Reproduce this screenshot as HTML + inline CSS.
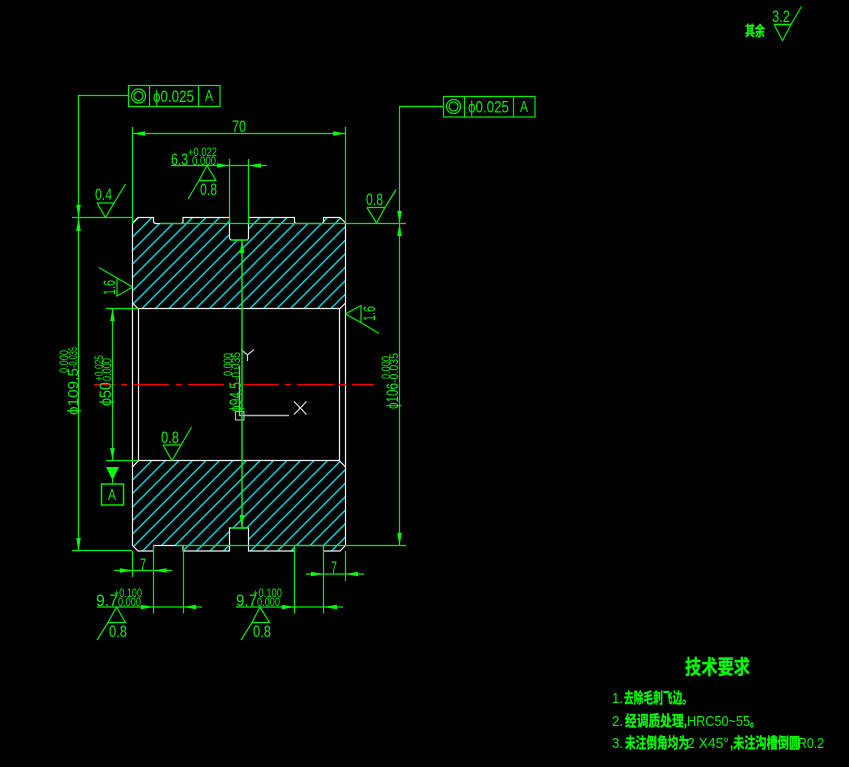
<!DOCTYPE html>
<html><head><meta charset="utf-8"><style>
html,body{margin:0;padding:0;background:#000;width:849px;height:767px;overflow:hidden}
svg{display:block}
text{font-family:"Liberation Sans","Noto Sans CJK SC",sans-serif;fill:#00f000;stroke:none}
.b{font-size:16.5px}.s{font-size:11.5px}
.c{font-family:"Liberation Sans","WenQuanYi Zen Hei","Noto Sans CJK SC",sans-serif;fill:#00ff00;font-weight:bold;stroke:#00ff00;stroke-width:.3}
.g{stroke:#00ee00;stroke-width:1.2;fill:none}
.a{fill:#00ff00;stroke:none}
</style></head><body>
<svg width="849" height="767" viewBox="0 0 849 767" xmlns="http://www.w3.org/2000/svg">
<rect width="849" height="767" fill="#000"/>
<defs>
<pattern id="h" width="13.5" height="13.5" patternUnits="userSpaceOnUse" patternTransform="translate(5 0)">
<path d="M-2 15.5L15.5 -2M-2 2L2 -2M11.5 15.5L15.5 11.5" stroke="#00d4dc" stroke-width="1.5" fill="none"/>
</pattern>
</defs>

<!-- body -->
<g fill="url(#h)" stroke="#f4f4f4" stroke-width="1.2">
<path d="M132.5 223L138 217.5H153.5V222L155 223.5H181.5L183 222V217.5H229.5V238.5L231 240H247L248.5 238.5V217.5H294.5V222L296 223.5H322L323.5 222V217.5H340L345.5 223V303L340 308.5H138L132.5 303Z"/>
<path d="M138.5 460.5H339L345.5 467V545.5L340 551H323.5V545.5H294.5V551H248.5V528H229.5V551H183V545.5H153.5V551H138L132.5 545.5V467Z"/>
</g>
<path d="M132.5 303V467M345.5 303V467M138.5 308V461M339.5 308V461" stroke="#f4f4f4" stroke-width="1.2" fill="none"/>

<!-- center line -->
<path d="M94 384.5H115M121 384.5H127M133 384.5H169M176 384.5H182M188 384.5H224M230 384.5H236M243 384.5H279M285 384.5H291M297 384.5H334M339 384.5H346M352 384.5H374" stroke="#ff0000" stroke-width="1.2" fill="none"/>

<!-- UCS -->
<g stroke="#b4b4b4" fill="none" stroke-width="1.2">
<rect x="235.5" y="411.5" width="8.5" height="8.5"/>
<path d="M239.5 366V415.5H289" stroke-width="1.4"/>
<path d="M294 401.5L306.5 414.5M306.5 401.5L294 414.5" stroke="#e8e8e8"/>
<path d="M241 349.5L247.5 355L254 349.5M247.5 355V361" stroke="#d8d8d8"/>
</g>

<!-- green lines -->
<g class="g">
<path d="M128 95.5H78.5V551"/>
<rect x="128.5" y="85.5" width="91.5" height="21"/>
<path d="M149.5 85.5V106.5M198.5 85.5V106.5"/>
<circle cx="138.5" cy="96" r="7"/><circle cx="138.5" cy="96" r="4.5"/>
<path d="M443 106.5H399.5V545.5"/>
<rect x="443.5" y="96.5" width="91.5" height="20.5"/>
<path d="M464.5 96.5V117M513.5 96.5V117"/>
<circle cx="453.5" cy="106.5" r="7"/><circle cx="453.5" cy="106.5" r="4.5"/>
<path d="M132.5 127V223M345.5 127V223M132.5 133.5H345.5"/>
<path d="M171 165.5H267M229.5 159V223M248.5 159V223"/>
<path d="M207 165.5L199 180.5H216L207 165.5M199 180.5L188 199"/>
<path d="M72 217.5H133"/>
<path d="M97 203H114L105.5 217.5L97 203M114 203L125.5 184"/>
<path d="M160 223.5H406"/>
<path d="M367 207.5H385L376.5 223L367 207.5M385 207.5L396 189.5"/>
<path d="M132.5 287L117 278V296L132.5 287M117 278L99 267.5"/>
<path d="M345.5 314L361 305.5V322.5L345.5 314M361 322.5L379 333.5"/>
<path d="M106 308.5H138M106 460.5H138M112.5 308.5V460.5"/>
<path d="M163 445H181L172 460.5L163 445M181 445L191.5 427"/>
<path d="M112.5 478V484"/>
<rect x="101.5" y="484" width="22" height="21" stroke-width="1.5"/>
<path d="M242 240V528M231 240H248M231 528H248" stroke-width="1.5"/>
<path d="M72 550.5H132M176 545.5H406"/>
<path d="M114 570.5H172M132.5 551V577M153.5 545V613.5M183.5 545V613.5"/>
<path d="M97 607H202"/>
<path d="M116.5 607L108 622.5H125.5L116.5 607M108 622.5L97 640"/>
<path d="M306 574H364M345.5 551V581M294.5 545V613.5M323.5 545V613.5"/>
<path d="M236 607H343"/>
<path d="M260 607L252 622.5H269.5L260 607M252 622.5L241 640"/>
<path d="M774 24.5H791L782.5 40.5L774 24.5M791 24.5L801.5 6.5"/>
</g>
<path d="M774 24.5H791" stroke="#00ee00" stroke-width="1.6"/>

<!-- arrows -->
<g class="a">
<path d="M132.5 133.5L145 131.2V135.8Z"/><path d="M345.5 133.5L333 131.2V135.8Z"/>
<path d="M229.5 165.5L217 163.2V167.8Z"/><path d="M248.5 165.5L261 163.2V167.8Z"/>
<path d="M78.5 217.5L76.2 205H80.8Z"/><path d="M78.5 217.5L76.2 231H80.8Z"/>
<path d="M78.5 551L76.2 538H80.8Z"/>
<path d="M399.5 223.5L397.2 211H401.8Z"/><path d="M399.5 223.5L397.2 236H401.8Z"/>
<path d="M399.5 545.5L397.2 533H401.8Z"/>
<path d="M112.5 308.5L110.2 321H114.8Z"/><path d="M112.5 460.5L110.2 448H114.8Z"/>
<path d="M242 240L239.7 253H244.3Z"/><path d="M242 528L239.7 515H244.3Z"/>
<path d="M132.5 570.5L120 568.2V572.8Z"/><path d="M153.5 570.5L166.5 568.2V572.8Z"/>
<path d="M153.5 607L141 604.7V609.3Z"/><path d="M183.5 607L196 604.7V609.3Z"/>
<path d="M323.5 574L311 571.7V576.3Z"/><path d="M345.5 574L358 571.7V576.3Z"/>
<path d="M294.5 607L282 604.7V609.3Z"/><path d="M323.5 607L337 604.7V609.3Z"/>
<path d="M106 467H119L112.5 480Z"/>
</g>

<!-- labels -->
<text class="b" x="153" y="102" textLength="41" lengthAdjust="spacingAndGlyphs">ϕ0.025</text>
<text x="205" y="101" textLength="8" lengthAdjust="spacingAndGlyphs" style="font-size:16px">A</text>
<text class="b" x="468" y="112.5" textLength="41" lengthAdjust="spacingAndGlyphs">ϕ0.025</text>
<text x="520" y="112" textLength="8" lengthAdjust="spacingAndGlyphs" style="font-size:16px">A</text>
<text class="b" x="232" y="132" textLength="14" lengthAdjust="spacingAndGlyphs">70</text>
<text class="b" x="171" y="165" textLength="17" lengthAdjust="spacingAndGlyphs">6.3</text>
<text class="s" x="188" y="156" textLength="29" lengthAdjust="spacingAndGlyphs">+0.022</text>
<text class="s" x="192" y="165" textLength="24" lengthAdjust="spacingAndGlyphs">0.000</text>
<text class="b" x="200" y="195" textLength="17" lengthAdjust="spacingAndGlyphs">0.8</text>
<text class="b" x="95" y="200" textLength="17" lengthAdjust="spacingAndGlyphs">0.4</text>
<text class="b" x="366" y="205" textLength="17" lengthAdjust="spacingAndGlyphs">0.8</text>
<text class="b" x="161" y="443" textLength="18" lengthAdjust="spacingAndGlyphs">0.8</text>
<text x="108" y="500" textLength="8" lengthAdjust="spacingAndGlyphs" style="font-size:16px">A</text>
<text class="b" x="140" y="570" textLength="6" lengthAdjust="spacingAndGlyphs">7</text>
<text class="b" x="331" y="573" textLength="6" lengthAdjust="spacingAndGlyphs">7</text>
<text class="b" x="96" y="606" textLength="22" lengthAdjust="spacingAndGlyphs">9.7</text>
<text class="s" x="114" y="597" textLength="28" lengthAdjust="spacingAndGlyphs">+0.100</text>
<text class="s" x="118" y="606" textLength="23" lengthAdjust="spacingAndGlyphs">0.000</text>
<text class="b" x="109" y="637" textLength="18" lengthAdjust="spacingAndGlyphs">0.8</text>
<text class="b" x="236" y="606" textLength="21" lengthAdjust="spacingAndGlyphs">9.7</text>
<text class="s" x="253" y="597" textLength="29" lengthAdjust="spacingAndGlyphs">+0.100</text>
<text class="s" x="257" y="606" textLength="23" lengthAdjust="spacingAndGlyphs">0.000</text>
<text class="b" x="253" y="637" textLength="18" lengthAdjust="spacingAndGlyphs">0.8</text>
<text class="b" x="772" y="22" textLength="18" lengthAdjust="spacingAndGlyphs">3.2</text>

<!-- rotated labels -->
<text class="b" transform="translate(115 295) rotate(-90)" textLength="15" lengthAdjust="spacingAndGlyphs">1.6</text>
<text class="b" transform="translate(375 321) rotate(-90)" textLength="15" lengthAdjust="spacingAndGlyphs">1.6</text>
<text class="b" transform="translate(111 406) rotate(-90)" textLength="24" lengthAdjust="spacingAndGlyphs">ϕ50</text>
<text class="s" transform="translate(103 381) rotate(-90)" textLength="26" lengthAdjust="spacingAndGlyphs">+0.025</text>
<text class="s" transform="translate(111 381) rotate(-90)" textLength="23" lengthAdjust="spacingAndGlyphs">0.000</text>
<text class="b" transform="translate(78 415) rotate(-90)" textLength="47" lengthAdjust="spacingAndGlyphs" style="font-size:15px">ϕ109.5</text>
<text class="s" transform="translate(68 373) rotate(-90)" textLength="23" lengthAdjust="spacingAndGlyphs">0.000</text>
<text class="s" transform="translate(77 368) rotate(-90)" textLength="21" lengthAdjust="spacingAndGlyphs">-0.035</text>
<text class="b" transform="translate(241 412) rotate(-90)" textLength="30" lengthAdjust="spacingAndGlyphs">ϕ94.5</text>
<text class="s" transform="translate(232 376) rotate(-90)" textLength="23" lengthAdjust="spacingAndGlyphs">0.000</text>
<text class="s" transform="translate(240 381) rotate(-90)" textLength="29" lengthAdjust="spacingAndGlyphs">-0.035</text>
<text class="b" transform="translate(398 409) rotate(-90)" textLength="26" lengthAdjust="spacingAndGlyphs">ϕ106</text>
<text class="s" transform="translate(390 379) rotate(-90)" textLength="23" lengthAdjust="spacingAndGlyphs">0.000</text>
<text class="s" transform="translate(398 383) rotate(-90)" textLength="30" lengthAdjust="spacingAndGlyphs">-0.035</text>

<!-- notes -->
<text class="c" x="745" y="36" font-size="14" textLength="20" lengthAdjust="spacingAndGlyphs">其余</text>
<text class="c" x="685" y="674" font-size="20" textLength="65" lengthAdjust="spacingAndGlyphs">技术要求</text>
<text x="612" y="703" textLength="11" lengthAdjust="spacingAndGlyphs" style="font-size:15px">1.</text>
<text class="c" x="624" y="703" font-size="15" textLength="68" lengthAdjust="spacingAndGlyphs">去除毛刺飞边。</text>
<text x="612" y="726" textLength="11" lengthAdjust="spacingAndGlyphs" style="font-size:15px">2.</text>
<text class="c" x="625" y="726" font-size="15" textLength="62" lengthAdjust="spacingAndGlyphs">经调质处理,</text>
<text x="687" y="726" textLength="63" lengthAdjust="spacingAndGlyphs" style="font-size:15px">HRC50~55</text>
<text class="c" x="750" y="726" font-size="15" textLength="10" lengthAdjust="spacingAndGlyphs">。</text>
<text x="612" y="748" textLength="11" lengthAdjust="spacingAndGlyphs" style="font-size:15px">3.</text>
<text class="c" x="625" y="748" font-size="15" textLength="64" lengthAdjust="spacingAndGlyphs">未注倒角均为</text>
<text x="687" y="748" textLength="42" lengthAdjust="spacingAndGlyphs" style="font-size:15px">2 X45°</text>
<text class="c" x="730" y="748" font-size="15" textLength="70" lengthAdjust="spacingAndGlyphs">,未注沟槽倒圆</text>
<text x="798" y="748" textLength="26" lengthAdjust="spacingAndGlyphs" style="font-size:15px">R0.2</text>
</svg>
</body></html>
